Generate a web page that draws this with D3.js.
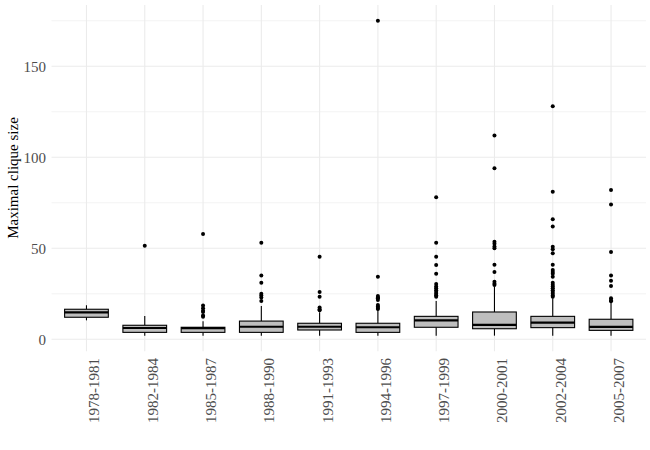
<!DOCTYPE html>
<html>
<head>
<meta charset="utf-8">
<script src="https://cdn.jsdelivr.net/npm/d3@7"></script>
<style>
body { margin: 0; background: #fff; }
text { font-family: "Liberation Serif", "Times New Roman", serif; }
</style>
</head>
<body>
<svg id="canvas"></svg>
<script>
let width = 650, height = 450

// box statistics per period
const periods = ["1978-1981","1982-1984","1985-1987","1988-1990","1991-1993","1994-1996","1997-1999","2000-2001","2002-2004","2005-2007"]
const lowWhisker = [10.4, 2, 2, 2, 2, 2, 2, 2, 2, 2]
const q1 = [12.1, 3.8, 3.8, 3.8, 5.1, 3.8, 6.6, 5.8, 6.4, 4.9]
const medians = [14.8, 6.2, 6.1, 6.9, 6.9, 6.6, 10.4, 7.9, 9.1, 6.8]
const q3 = [16.5, 7.7, 6.6, 10, 8.8, 8.8, 12.6, 15, 12.6, 11]
const highWhisker = [18.7, 12.8, 9.9, 18.3, 14.8, 16.1, 21, 28.9, 22.5, 20.2]
const outliers = [
    [],
    [51.4],
    [57.9, 18.5, 17, 15.7, 15, 13, 12.4],
    [53, 35, 31, 25, 24, 23, 21],
    [45.4, 26, 23.4, 17.4, 16.5, 16],
    [175, 34.4, 23.8, 23, 22.5, 21.6, 18.8, 18, 17.2, 16.6],
    [78, 53, 45.4, 40.8, 36, 30.4, 29, 28, 27, 26, 25, 24.2, 23.4],
    [112, 94, 53.6, 52.5, 51, 50, 41, 37, 31.6, 30.5, 29.8],
    [128, 81, 66, 62, 50.9, 49.5, 47.2, 41, 38, 37, 36, 34.4, 31, 30, 29, 28, 27, 26, 25, 24, 23.4],
    [82, 74, 48, 35, 32.2, 29.3, 22.6, 21.5, 20.9]
]
const majorTicks = [0, 50, 100, 150]
const minorTicks = [25, 75, 125, 175]

let svg = d3.select('#canvas').attr("width", width).attr("height", height)

let x = d3.scalePoint().domain(periods).range([51.5, 646]).padding(0.6)
let y = d3.scaleLinear().domain([-6.6, 183.6]).range([351.3, 5.1])
let boxW = x.step() * 0.75

// grid
svg.selectAll(".minor").data(minorTicks).enter().append("line")
    .attr("x1", 51.5).attr("x2", 646)
    .attr("y1", d => y(d)).attr("y2", d => y(d))
    .style("stroke", "#ebebeb").style("stroke-width", 0.6)
svg.selectAll(".major").data(majorTicks).enter().append("line")
    .attr("x1", 51.5).attr("x2", 646)
    .attr("y1", d => y(d)).attr("y2", d => y(d))
    .style("stroke", "#ebebeb").style("stroke-width", 1.1)
svg.selectAll(".vgrid").data(periods).enter().append("line")
    .attr("x1", d => x(d)).attr("x2", d => x(d))
    .attr("y1", 5.1).attr("y2", 351.3)
    .style("stroke", "#ebebeb").style("stroke-width", 1.1)

// y axis labels
svg.selectAll(".ylab").data(majorTicks).enter().append("text")
    .attr("x", 46).attr("y", d => y(d)).attr("dy", "0.35em")
    .attr("text-anchor", "end").style("font-size", "15px").style("fill", "#4d4d4d")
    .text(d => d)

// x axis labels
svg.selectAll(".xlab").data(periods).enter().append("text")
    .attr("transform", d => `translate(${x(d) + 13},358) rotate(-90)`)
    .attr("text-anchor", "end").style("font-size", "15px").style("fill", "#4d4d4d")
    .text(d => d)

svg.append("text")
    .attr("transform", "translate(18,178) rotate(-90)")
    .attr("text-anchor", "middle").style("font-size", "15px").style("fill", "#000")
    .text("Maximal clique size")

// boxes
let g = svg.selectAll(".box").data(periods).enter().append("g")

g.append("line")
    .attr("x1", d => x(d)).attr("x2", d => x(d))
    .attr("y1", (d, i) => y(highWhisker[i])).attr("y2", (d, i) => y(q3[i]))
    .style("stroke", "#000").style("stroke-width", 1.1)
g.append("line")
    .attr("x1", d => x(d)).attr("x2", d => x(d))
    .attr("y1", (d, i) => y(lowWhisker[i])).attr("y2", (d, i) => y(q1[i]))
    .style("stroke", "#000").style("stroke-width", 1.1)
g.append("rect")
    .attr("x", d => x(d) - boxW / 2).attr("width", boxW)
    .attr("y", (d, i) => y(q3[i])).attr("height", (d, i) => y(q1[i]) - y(q3[i]))
    .style("fill", "#bebebe").style("stroke", "#000").style("stroke-width", 1.1)
g.append("line")
    .attr("x1", d => x(d) - boxW / 2).attr("x2", d => x(d) + boxW / 2)
    .attr("y1", (d, i) => y(medians[i])).attr("y2", (d, i) => y(medians[i]))
    .style("stroke", "#000").style("stroke-width", 2.2)

g.each(function(d, i) {
    d3.select(this).selectAll("circle").data(outliers[i]).enter().append("circle")
        .attr("cx", x(d)).attr("cy", v => y(v)).attr("r", 2)
        .style("fill", "#000")
})
</script>
</body>
</html>
